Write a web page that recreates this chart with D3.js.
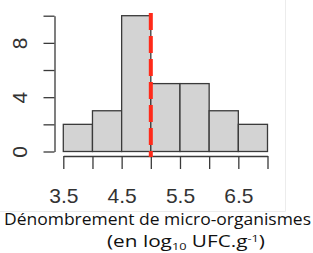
<!DOCTYPE html>
<html>
<head>
<meta charset="utf-8">
<script src="https://cdn.jsdelivr.net/npm/d3@7"></script>
<style>
  html, body { margin: 0; padding: 0; background: #fff; }
  svg { display: block; }
</style>
</head>
<body>
<svg id="chart" width="313" height="253"></svg>
<script>
// ---- data ----
const binStarts = [3.5, 4.0, 4.5, 5.0, 5.5, 6.0, 6.5];
const binWidth  = 0.5;
const counts    = [2, 3, 10, 5, 5, 3, 2];
const xTicks    = [3.5, 4.0, 4.5, 5.0, 5.5, 6.0, 6.5, 7.0];
const xLabelled = [3.5, 4.5, 5.5, 6.5];
const yTicks    = [0, 2, 4, 6, 8, 10];
const yLabelled = [0, 4, 8];
const meanValue = 5.0;
const titleLine = 'Dénombrement de micro-organismes';

const AXIS_COL = '#3a3a3a';
const svg = d3.select('#chart');

const x = d3.scaleLinear().domain([3.5, 7.0]).range([63.3, 267.5]);
const y = d3.scaleLinear().domain([0, 10]).range([151.5, 15.7]);

// faint frame of the pasted plot
svg.append('path')
  .attr('d', 'M285.5,0V211.5H0')
  .attr('fill', 'none')
  .attr('stroke', '#ececec')
  .attr('stroke-width', 1);

// bars
svg.selectAll('rect.bar')
  .data(binStarts)
  .enter()
  .append('rect')
  .attr('class', 'bar')
  .attr('x', d => x(d))
  .attr('width', d => x(d + binWidth) - x(d))
  .attr('y', (d, i) => y(counts[i]))
  .attr('height', (d, i) => y(0) - y(counts[i]))
  .attr('fill', '#d3d3d3')
  .attr('stroke', AXIS_COL)
  .attr('stroke-width', 1.3);

// x axis
const xAxis = d3.axisBottom(x)
  .tickValues(xTicks)
  .tickSize(13)
  .tickSizeOuter(0)
  .tickPadding(19)
  .tickFormat(d => xLabelled.includes(d) ? d3.format('.1f')(d) : '');
const gx = svg.append('g')
  .attr('transform', 'translate(0,156)')
  .call(xAxis);
gx.selectAll('path, line').attr('stroke', AXIS_COL).attr('stroke-width', 1.3);
gx.selectAll('text')
  .filter(function() { return this.textContent === ''; }).remove();
gx.selectAll('text')
  .attr('fill', '#333')
  .attr('font-family', '"Liberation Sans", Arial, sans-serif')
  .attr('font-size', 21);

// y axis
const yAxis = d3.axisLeft(y)
  .tickValues(yTicks)
  .tickSize(11)
  .tickSizeOuter(0)
  .tickFormat(d => yLabelled.includes(d) ? d : '');
const gy = svg.append('g')
  .attr('transform', 'translate(54.5,0)')
  .call(yAxis);
gy.selectAll('path, line').attr('stroke', AXIS_COL).attr('stroke-width', 1.3);
gy.selectAll('text')
  .filter(function() { return this.textContent === ''; }).remove();
gy.selectAll('text')
  .attr('x', 0)
  .attr('dy', 0)
  .attr('text-anchor', 'middle')
  .attr('transform', 'translate(-28,0) rotate(-90)')
  .attr('fill', '#333')
  .attr('font-family', '"Liberation Sans", Arial, sans-serif')
  .attr('font-size', 21);

// red dashed mean line
svg.append('line')
  .attr('x1', x(meanValue)).attr('x2', x(meanValue))
  .attr('y1', 13).attr('y2', 157)
  .attr('stroke', '#ff2a1a')
  .attr('stroke-width', 4)
  .attr('stroke-dasharray', '17,6');

// axis title (two lines)
svg.append('text')
  .attr('x', 4)
  .attr('y', 225)
  .attr('font-family', '"Open Sans", sans-serif')
  .attr('font-size', 16)
  .attr('fill', '#111')
  .attr('textLength', 307)
  .attr('lengthAdjust', 'spacingAndGlyphs')
  .text(titleLine);

const sub = svg.append('text')
  .attr('x', 107)
  .attr('y', 247)
  .attr('font-family', '"Open Sans", sans-serif')
  .attr('font-size', 15.5)
  .attr('fill', '#111')
  .attr('textLength', 158)
  .attr('lengthAdjust', 'spacingAndGlyphs');
sub.append('tspan').text('(en log');
sub.append('tspan').attr('font-size', 9.5).attr('dy', 3).text('10');
sub.append('tspan').attr('dy', -3).text(' UFC.g');
sub.append('tspan').attr('font-size', 9.5).attr('dy', -5).text('-1');
sub.append('tspan').attr('dy', 5).text(')');
</script>
</body>
</html>
